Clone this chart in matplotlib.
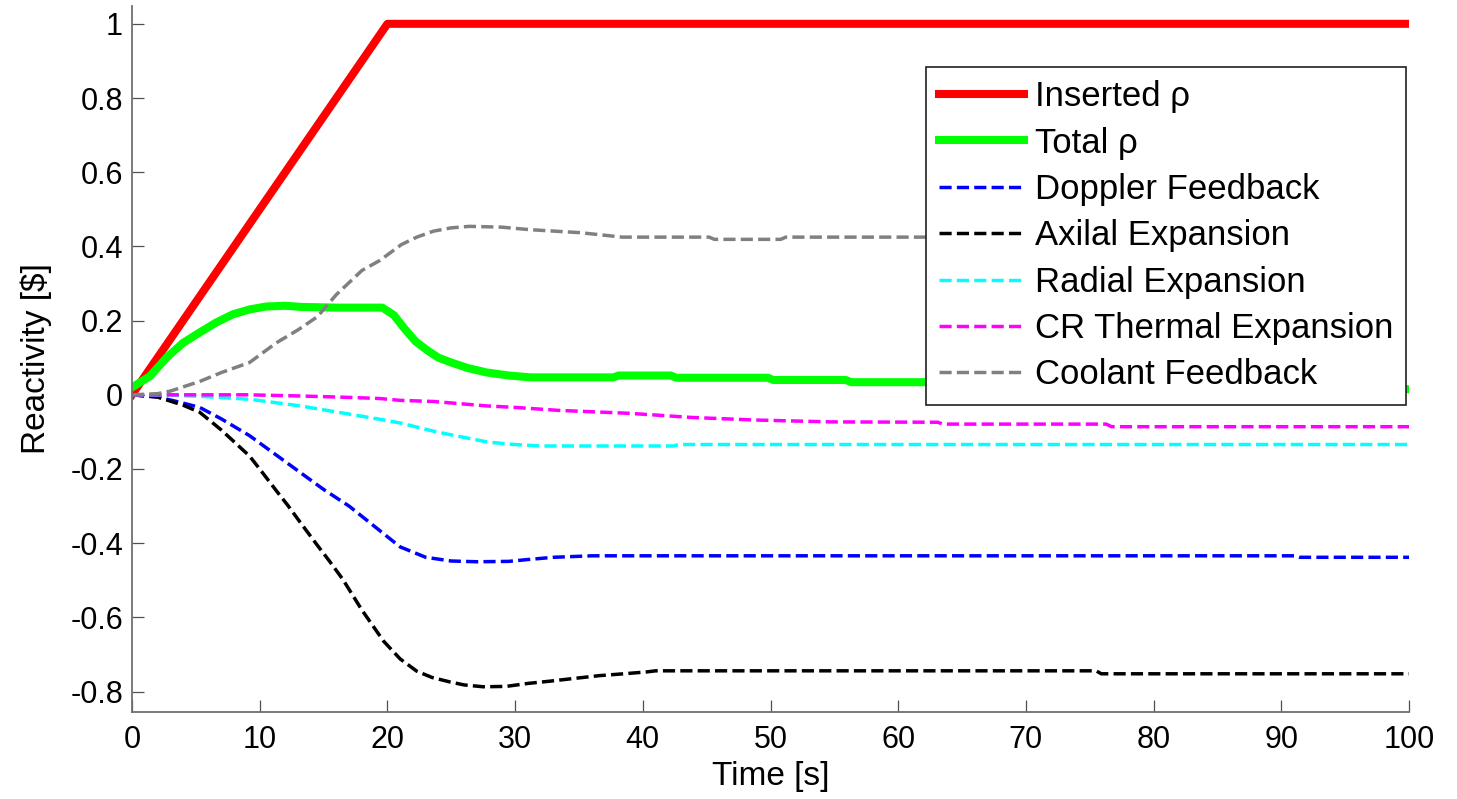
import matplotlib
matplotlib.use("Agg")
import matplotlib.pyplot as plt

plt.rcParams['font.family'] = ['Liberation Sans', 'DejaVu Sans']
plt.rcParams['axes.unicode_minus'] = False

# ---------------- data ----------------
t_ins = [0, 20, 100]
v_ins = [0.0, 1.0, 1.0]

t_tot = [0, 1.4, 2.7, 4, 5.3, 6.6, 7.9, 9.2, 10.5, 12, 13.2, 16, 19.6,
         20.5, 21.3, 22.2, 23.2, 24.0, 25.0, 26.3, 27.8, 29.5, 31.2,
         37.7, 38.1, 42.2, 42.6, 49.8, 50.2, 55.9, 56.3, 62, 98.5, 100]
v_tot = [0.02, 0.05, 0.10, 0.14, 0.168, 0.195, 0.217, 0.23, 0.238, 0.24,
         0.237, 0.235, 0.235,
         0.215, 0.18, 0.144, 0.118, 0.10, 0.087, 0.072, 0.06, 0.052, 0.047,
         0.047, 0.052, 0.052, 0.046, 0.046, 0.040, 0.040, 0.034, 0.034, 0.017, 0.015]

t_dop = [0, 2, 3.5, 5.3, 7, 9.2, 11, 13.2, 15, 17, 19, 21, 23, 25, 27,
         29.5, 31, 33, 36, 91, 91.4, 100]
v_dop = [0, -0.006, -0.018, -0.034, -0.065, -0.11, -0.155, -0.21, -0.255,
         -0.30, -0.355, -0.41, -0.438, -0.448, -0.45, -0.449, -0.444,
         -0.438, -0.434, -0.434, -0.438, -0.438]

t_axi = [0, 2, 4, 5.3, 7, 9.2, 10, 11.2, 12.2, 13.2, 14.5, 15.5, 16.5, 18,
         19.7, 21, 22.3, 23.5, 24.9, 26, 27.5, 29.3, 31, 32.7, 34.5, 36.6,
         38.5, 40.3, 41, 75.5, 75.9, 100]
v_axi = [0, -0.006, -0.028, -0.047, -0.095, -0.165, -0.2, -0.254, -0.298,
         -0.345, -0.405, -0.45, -0.497, -0.58, -0.664, -0.712, -0.745,
         -0.762, -0.774, -0.782, -0.787, -0.786, -0.778, -0.772, -0.765,
         -0.757, -0.752, -0.747, -0.744, -0.744, -0.752, -0.752]

t_rad = [0, 3, 5.3, 9.2, 13.2, 17, 19.4, 21, 23.6, 25, 27.8, 29.5, 32,
         42.4, 42.8, 100]
v_rad = [0, -0.001, -0.004, -0.012, -0.03, -0.052, -0.066, -0.076, -0.098,
         -0.108, -0.127, -0.133, -0.138, -0.138, -0.134, -0.134]

t_cr = [0, 9, 13, 17, 19.4, 21, 23.6, 27.8, 30, 33.4, 39, 43.8, 48.8,
        54.7, 63.1, 63.5, 76.3, 76.7, 100]
v_cr = [0, 0, -0.003, -0.007, -0.01, -0.015, -0.018, -0.03, -0.034, -0.042,
        -0.05, -0.061, -0.068, -0.073, -0.074, -0.079, -0.079, -0.086, -0.086]

# coolant trace is hidden behind the legend beyond ~62 s; not visible past it
t_cool = [0, 2, 3, 5.3, 7, 9.2, 11.3, 13, 14.5, 16, 18, 19.4, 21.1, 22.3,
          23.6, 25, 26.4, 28.9, 31.2, 35.1, 38.4, 45.2, 45.6, 50.8, 51.2, 97]
v_cool = [0, 0.003, 0.01, 0.036, 0.06, 0.087, 0.14, 0.175, 0.21, 0.27,
          0.335, 0.362, 0.405, 0.425, 0.441, 0.45, 0.454, 0.452, 0.445,
          0.437, 0.425, 0.425, 0.419, 0.419, 0.425, 0.425]

labels = ['Inserted \u03c1', 'Total \u03c1', 'Doppler Feedback',
          'Axilal Expansion', 'Radial Expansion', 'CR Thermal Expansion',
          'Coolant Feedback']
x_ticks = [0, 10, 20, 30, 40, 50, 60, 70, 80, 90, 100]
y_ticks = [-0.8, -0.6, -0.4, -0.2, 0, 0.2, 0.4, 0.6, 0.8, 1]
y_tick_labels = ['-0.8', '-0.6', '-0.4', '-0.2', '0', '0.2', '0.4', '0.6', '0.8', '1']

# ---------------- figure ----------------
W, H = 1457, 799
fig = plt.figure(figsize=(W / 100, H / 100), dpi=100)
ax = fig.add_axes([132 / W, 1 - 712 / H, (1409 - 132) / W, (712 - 6) / H])

dash = (0, (3.5, 1.5))
ax.plot(t_ins, v_ins, color='#ff0000', lw=5.8, solid_joinstyle='round', label=labels[0])
ax.plot(t_tot, v_tot, color='#00ff00', lw=5.8, solid_joinstyle='round', label=labels[1])
ax.plot(t_dop, v_dop, color='#0000ff', lw=2.5, linestyle=dash, label=labels[2])
ax.plot(t_axi, v_axi, color='#000000', lw=2.5, linestyle=dash, label=labels[3])
ax.plot(t_rad, v_rad, color='#00ffff', lw=2.5, linestyle=dash, label=labels[4])
ax.plot(t_cr, v_cr, color='#ff00ff', lw=2.5, linestyle=dash, label=labels[5])
ax.plot(t_cool, v_cool, color='#808080', lw=2.5, linestyle=dash, label=labels[6])

ax.set_xlim(0, 100)
ax.set_ylim(-0.855, 1.048)
ax.set_xticks(x_ticks)
ax.set_xticklabels([str(v) for v in x_ticks])
ax.set_yticks(y_ticks)
ax.set_yticklabels(y_tick_labels)

for s in ['top', 'right']:
    ax.spines[s].set_visible(False)
for s in ['left', 'bottom']:
    ax.spines[s].set_color('#707070')
    ax.spines[s].set_linewidth(1.3)
ax.tick_params(direction='in', length=8.5, width=0.9, color='#505050',
               labelsize=22, pad=6.5, labelcolor='black')
ax.tick_params(axis='x', pad=9)

ax.set_xlabel('Time [s]', fontsize=24)
ax.set_ylabel('Reactivity [\\$]', fontsize=24)
ax.xaxis.set_label_coords(0.5, -0.07)
ax.yaxis.set_label_coords(-0.063, 0.5)

leg = ax.legend(loc='upper left', bbox_to_anchor=(926 / W, 1 - 67 / H),
                bbox_transform=fig.transFigure, borderaxespad=0,
                fontsize=25, frameon=True, fancybox=False, framealpha=1,
                edgecolor='#202020', handlelength=2.45, handletextpad=0.3,
                labelspacing=0.385, borderpad=0.38)
leg.get_frame().set_linewidth(1.2)

fig.savefig('out.png', dpi=100)
